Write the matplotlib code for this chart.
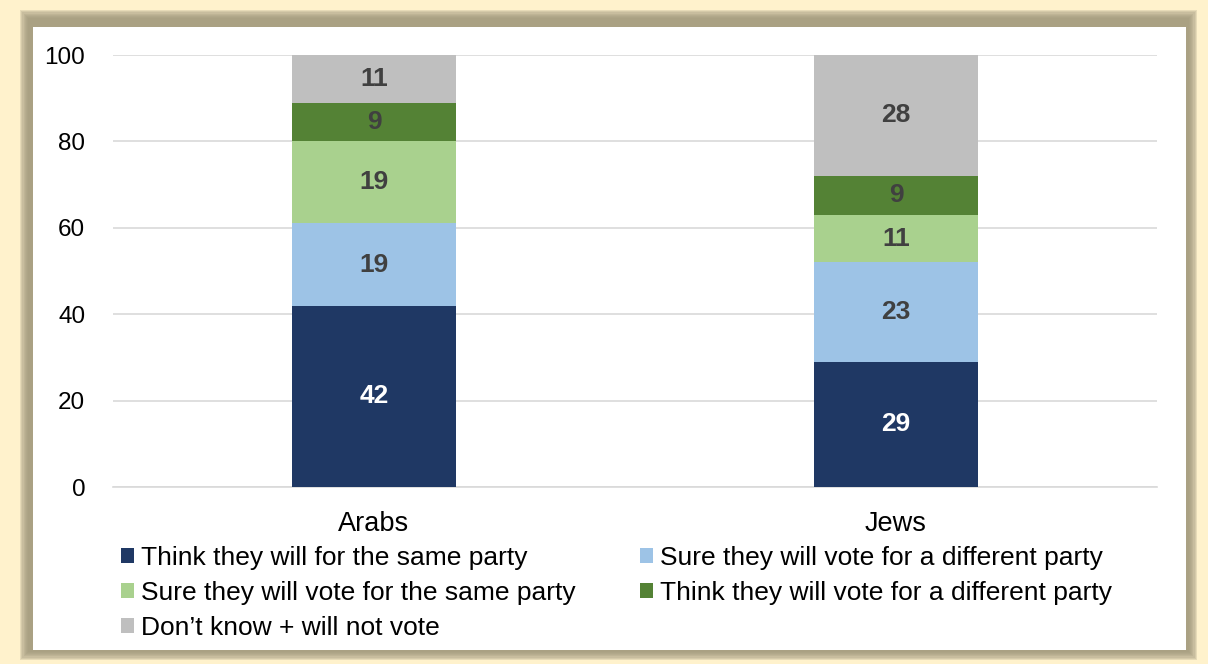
import matplotlib.pyplot as plt
from matplotlib.patches import Rectangle, Patch

plt.rcParams['font.family'] = ['Liberation Sans', 'DejaVu Sans']

groups = ["Arabs", "Jews"]
series = [
    "Think they will for the same party",
    "Sure they will vote for a different party",
    "Sure they will vote for the same party",
    "Think they will vote for a different party",
    "Don\u2019t know + will not vote",
]
values = [
    [42, 29],
    [19, 23],
    [19, 11],
    [9, 9],
    [11, 28],
]
colors = ["#1F3864", "#9DC3E6", "#A9D18E", "#548235", "#BFBFBF"]
label_colors = ["white", "#404040", "#404040", "#404040", "#404040"]

W, H = 1208, 664
fig = plt.figure(figsize=(W / 100, H / 100), dpi=100)
fig.patch.set_facecolor("#FFF2CC")

# frame with soft shadow
def px_rect(x0, y0, x1, y1, **kw):
    return Rectangle((x0 / W, 1 - y1 / H), (x1 - x0) / W, (y1 - y0) / H,
                     transform=fig.transFigure, **kw)

for i in range(8):
    d = i * 1.2
    fig.patches.append(px_rect(20 + d, 10 + d, 1197 - d, 660 - d,
                               facecolor="#A39A7E", edgecolor="none", alpha=0.25, zorder=0))
fig.patches.append(px_rect(33, 27, 1186, 650, facecolor="white", edgecolor="none", zorder=1))

ax = fig.add_axes([113 / W, 1 - 487 / H, (1157 - 113) / W, (487 - 55) / H])
ax.set_facecolor("none")
ax.set_zorder(2)

x = range(len(groups))
bottoms = [0, 0]
for vals, c, lc in zip(values, colors, label_colors):
    bars = ax.bar(x, vals, width=0.314, bottom=bottoms, color=c, zorder=3)
    for b, v, bt in zip(bars, vals, bottoms):
        ax.text(b.get_x() + b.get_width() / 2, bt + v / 2, str(v), ha="center", va="center",
                color=lc, fontsize=19, fontweight="bold", zorder=4)
    bottoms = [a + v for a, v in zip(bottoms, vals)]

ax.set_xlim(-0.5, 1.5)
ax.set_ylim(0, 100)
ax.set_yticks(range(0, 101, 20))
ax.set_xticks(list(x))
ax.set_xticklabels(groups, fontsize=19.5)
ax.tick_params(axis="y", labelsize=17.5, length=0, pad=20)
ax.tick_params(axis="x", length=0, pad=17)
ax.grid(axis="y", color="#D9D9D9", linewidth=1.2, zorder=0)
for s in ["top", "right", "left"]:
    ax.spines[s].set_visible(False)
ax.spines["bottom"].set_color("#D9D9D9")
ax.spines["bottom"].set_linewidth(1.2)

order = [0, 2, 4, 1, 3]
handles = [Patch(facecolor=colors[i], label=series[i]) for i in order]
fig.legend(handles=handles, ncol=2, loc="upper left", bbox_to_anchor=(121 / W, 1 - 546 / H),
           frameon=False, fontsize=19, handlelength=0.5, handleheight=0.5,
           handletextpad=0.25, columnspacing=2.45, labelspacing=0.41,
           borderpad=0, borderaxespad=0)

fig.savefig("out.png", dpi=100, facecolor=fig.get_facecolor())
